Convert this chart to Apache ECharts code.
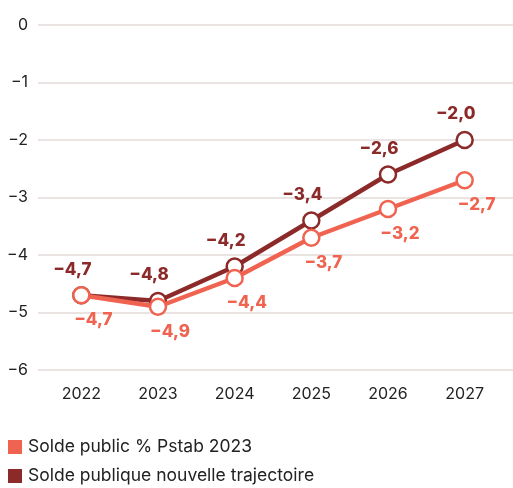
<!DOCTYPE html>
<html><head><meta charset="utf-8">
<script src="https://cdn.jsdelivr.net/npm/echarts@6/dist/echarts.min.js"></script>
<style>html,body{margin:0;padding:0;background:#fff}#c{width:513px;height:488px}</style>
</head><body><div id="c"></div>
<script>
const categories = ['2022','2023','2024','2025','2026','2027'];
const pstab = [-4.7, -4.9, -4.4, -3.7, -3.2, -2.7];
const nouvelle = [-4.7, -4.8, -4.2, -3.4, -2.6, -2.0];
const seriesNames = ['Solde public % Pstab 2023', 'Solde publique nouvelle trajectoire'];
const yTicks = [-6, -5, -4, -3, -2, -1, 0];

const cLight = '#ef6350';
const cDark = '#8c2a2a';
const font = 'Inter';
const fmt = p => '\u2212' + Math.abs(p.value).toFixed(1).replace('.', ',');

const chart = echarts.init(document.getElementById('c'));
chart.setOption({
  animation: false,
  textStyle: {fontFamily: font},
  grid: [
    {left: 38, right: 0, top: 25, bottom: 118},
    {left: 43, right: 10, top: 25, bottom: 118}
  ],
  xAxis: [
    {gridIndex: 0, type: 'category', data: categories, show: false},
    {gridIndex: 1, type: 'category', data: categories, boundaryGap: true,
     axisLine: {show: false}, axisTick: {show: false},
     axisLabel: {color: '#222', fontSize: 16, fontFamily: font, margin: 16}}
  ],
  yAxis: [
    {gridIndex: 0, type: 'value', min: yTicks[0], max: yTicks[yTicks.length-1], interval: 1,
     axisLine: {show: false}, axisTick: {show: false},
     axisLabel: {color: '#222', fontSize: 16, fontFamily: font, margin: 10,
       formatter: v => v < 0 ? '\u2212' + Math.abs(v) : String(v)},
     splitLine: {lineStyle: {color: '#e2dbd7', width: 1.5}}},
    {gridIndex: 1, type: 'value', min: yTicks[0], max: yTicks[yTicks.length-1], interval: 1, show: false,
     splitLine: {show: false}}
  ],
  legend: {
    orient: 'vertical', left: 8, top: 438, bottom: 0, padding: 0, itemWidth: 14, itemHeight: 14, itemGap: 11,
    icon: 'rect',
    textStyle: {color: '#222', fontSize: 17.5, fontFamily: font, padding: [0,0,0,1]},
    data: [
      {name: seriesNames[0], itemStyle: {color: cLight, borderWidth: 0}},
      {name: seriesNames[1], itemStyle: {color: cDark, borderWidth: 0}}
    ]
  },
  series: [
    {name: seriesNames[0], type: 'line', xAxisIndex: 1, yAxisIndex: 1, data: pstab,
     symbol: 'circle', symbolSize: 16, z: 3,
     lineStyle: {color: cLight, width: 4.5},
     itemStyle: {color: '#fff', borderColor: cLight, borderWidth: 2.5},
     label: {show: true, position: 'bottom', distance: 7, offset: [12, 0], formatter: fmt,
       color: cLight, fontWeight: 800, fontSize: 17, fontFamily: font}},
    {name: seriesNames[1], type: 'line', xAxisIndex: 1, yAxisIndex: 1, data: nouvelle,
     symbol: 'circle', symbolSize: 16, z: 2,
     lineStyle: {color: cDark, width: 4.5},
     itemStyle: {color: '#fff', borderColor: cDark, borderWidth: 2.5},
     label: {show: true, position: 'top', distance: 8, offset: [-9, 0], formatter: fmt,
       color: cDark, fontWeight: 800, fontSize: 17, fontFamily: font}}
  ]
});
</script></body></html>
